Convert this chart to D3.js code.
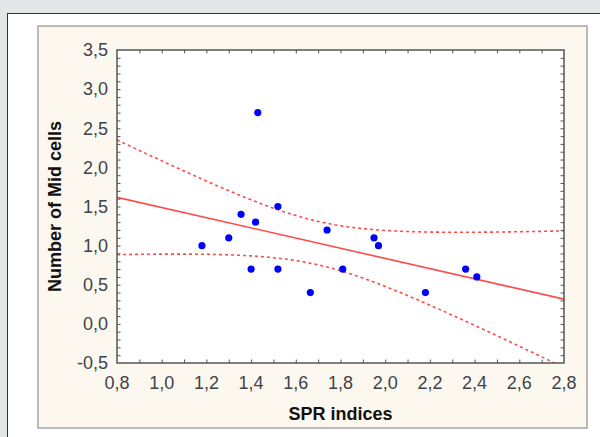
<!DOCTYPE html>
<html>
<head>
<meta charset="utf-8">
<script src="https://cdn.jsdelivr.net/npm/d3@7"></script>
<style>
  body { margin: 0; background: #e4e7e8; }
  svg { display: block; }
  .lbl { font-family: "Liberation Sans", Arial, sans-serif; font-size: 18px; fill: #3d434b; }
  .title { font-family: "Liberation Sans", Arial, sans-serif; font-size: 18px; font-weight: bold; fill: #111; }
</style>
</head>
<body>
<script>
// SPR indices vs number of Mid cells
var sprIndex = [1.18, 1.30, 1.355, 1.42, 1.43, 1.40, 1.52, 1.52, 1.665, 1.74, 1.81, 1.95, 1.97, 2.18, 2.36, 2.41];
var midCells = [1.0, 1.1, 1.4, 1.3, 2.7, 0.7, 1.5, 0.7, 0.4, 1.2, 0.7, 1.1, 1.0, 0.4, 0.7, 0.6];

var xTicks = [0.8, 1.0, 1.2, 1.4, 1.6, 1.8, 2.0, 2.2, 2.4, 2.6, 2.8];
var xTickLabels = ["0,8", "1,0", "1,2", "1,4", "1,6", "1,8", "2,0", "2,2", "2,4", "2,6", "2,8"];
var yTicks = [-0.5, 0.0, 0.5, 1.0, 1.5, 2.0, 2.5, 3.0, 3.5];
var yTickLabels = ["-0,5", "0,0", "0,5", "1,0", "1,5", "2,0", "2,5", "3,0", "3,5"];

var tCrit = 2.145; // t(0.975, df = 14) for the 95% band

const svg = d3.select("body").append("svg")
    .attr("width", 600)
    .attr("height", 437)

svg.append("rect").attr("width", 600).attr("height", 437).attr("fill", "#e4e7e8")
svg.append("rect")
    .attr("x", 7.5).attr("y", 13.5).attr("width", 600).attr("height", 440)
    .attr("fill", "#fff").attr("stroke", "#333")
svg.append("rect")
    .attr("x", 38).attr("y", 26).attr("width", 549).attr("height", 402)
    .attr("fill", "#fdf8ef").attr("stroke", "#a5a5a5").attr("stroke-width", 1.5)

const margin = { left: 117, top: 50 },
    width = 447,
    height = 313;

const chart = svg.append("g").attr("transform", `translate(${margin.left},${margin.top})`)

const x = d3.scaleLinear().domain([0.8, 2.8]).range([0, width])
const y = d3.scaleLinear().domain([-0.5, 3.5]).range([height, 0])

chart.append("rect").attr("width", width).attr("height", height).attr("fill", "#fff")

chart.append("clipPath").attr("id", "clip")
    .append("rect").attr("width", width).attr("height", height)

// regression line and 95% confidence band from the points
var n = sprIndex.length
var mx = d3.mean(sprIndex), my = d3.mean(midCells)
var sxx = d3.sum(sprIndex, d => (d - mx) * (d - mx))
var sxy = d3.sum(sprIndex, (d, i) => (d - mx) * (midCells[i] - my))
var slope = sxy / sxx, icpt = my - slope * mx
var sse = d3.sum(sprIndex, (d, i) => Math.pow(midCells[i] - (icpt + slope * d), 2))
var s = Math.sqrt(sse / (n - 2))

var xs = d3.range(0, 201).map(i => 0.8 + i * 0.01)
var fit = xs.map(function (v) {
    var yh = icpt + slope * v
    var h = tCrit * s * Math.sqrt(1 / n + (v - mx) * (v - mx) / sxx)
    return { x: v, y: yh, lo: yh - h, hi: yh + h }
})

const plot = chart.append("g").attr("clip-path", "url(#clip)")

const line = key => d3.line().x(d => x(d.x)).y(d => y(d[key]))

plot.append("path").datum(fit).attr("d", line("hi"))
    .attr("fill", "none").attr("stroke", "#ff4a4a").attr("stroke-width", 1.6)
    .attr("stroke-dasharray", "3,3")
plot.append("path").datum(fit).attr("d", line("lo"))
    .attr("fill", "none").attr("stroke", "#ff4a4a").attr("stroke-width", 1.6)
    .attr("stroke-dasharray", "3,3")
plot.append("path").datum([fit[0], fit[fit.length - 1]]).attr("d", line("y"))
    .attr("fill", "none").attr("stroke", "#ff4a4a").attr("stroke-width", 1.6)

chart.selectAll(".dot")
    .data(sprIndex)
    .enter().append("circle")
    .attr("class", "dot")
    .attr("cx", d => x(d))
    .attr("cy", (d, i) => y(midCells[i]))
    .attr("r", 3.6)
    .attr("fill", "#0000ff")

// inward tick marks on all four sides, every 0.1
var xMinor = d3.range(9, 28).map(i => i / 10)
var yMinor = d3.range(-4, 35).map(i => i / 10)

function ticks(axis, tr) {
    var g = chart.append("g").attr("transform", tr).call(axis.tickFormat("").tickSizeOuter(0))
    g.select(".domain").remove()
    g.selectAll("line").attr("stroke", "#555")
}
ticks(d3.axisRight(y).tickValues(yMinor).tickSize(3.5), "translate(0,0)")
ticks(d3.axisLeft(y).tickValues(yMinor).tickSize(3.5), `translate(${width},0)`)
ticks(d3.axisBottom(x).tickValues(xMinor).tickSize(3.5), "translate(0,0)")
ticks(d3.axisTop(x).tickValues(xMinor).tickSize(3.5), `translate(0,${height})`)

chart.append("rect").attr("width", width).attr("height", height)
    .attr("fill", "none").attr("stroke", "#555").attr("stroke-width", 1.5)

// tick labels
chart.selectAll(".xl").data(xTicks).enter().append("text")
    .attr("class", "lbl")
    .attr("x", d => x(d)).attr("y", height + 26)
    .attr("text-anchor", "middle")
    .text((d, i) => xTickLabels[i])
chart.selectAll(".yl").data(yTicks).enter().append("text")
    .attr("class", "lbl")
    .attr("x", -9).attr("y", d => y(d)).attr("dy", "0.35em")
    .attr("text-anchor", "end")
    .text((d, i) => yTickLabels[i])

// axis titles
svg.append("text").attr("class", "title")
    .attr("x", margin.left + width / 2).attr("y", 420)
    .attr("text-anchor", "middle")
    .text("SPR indices")
svg.append("text").attr("class", "title")
    .attr("transform", `translate(61,${margin.top + height / 2}) rotate(-90)`)
    .attr("text-anchor", "middle")
    .text("Number of Mid cells")
</script>
</body>
</html>
